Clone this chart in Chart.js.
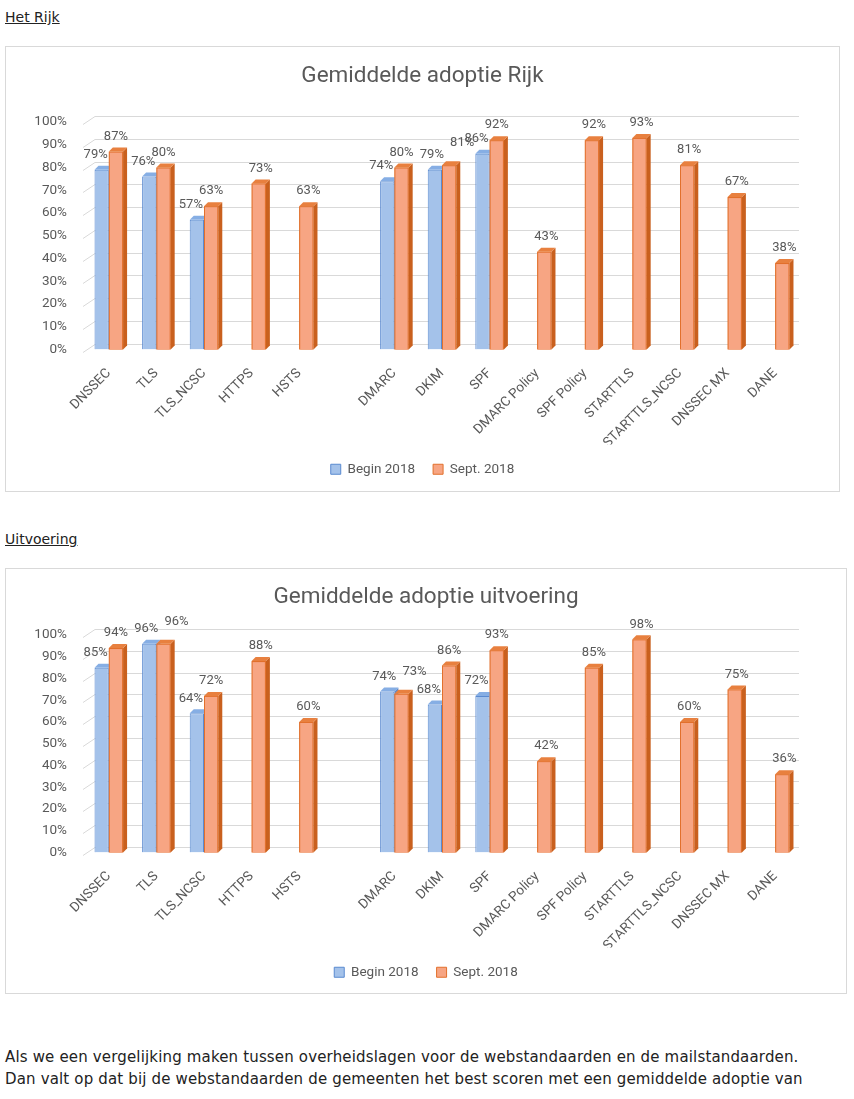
<!DOCTYPE html>
<html>
<head>
<meta charset="utf-8">
<script src="https://cdn.jsdelivr.net/npm/chart.js@4/dist/chart.umd.min.js"></script>
<style>
  body { margin: 0; background: #fff; width: 854px; height: 1099px; position: relative; font-family: "DejaVu Sans", sans-serif; }
  .kop { position: absolute; left: 5px; font-size: 14px; color: #222; text-decoration: underline; }
  .box { position: absolute; left: 5px; border: 1px solid #d9d9d9; box-sizing: border-box; }
  .tekst { position: absolute; left: 5px; font-size: 15px; letter-spacing: 0.16px; color: #222; line-height: 22px; white-space: nowrap; }
</style>
</head>
<body>
<div class="kop" style="top:9px">Het Rijk</div>
<div class="box" style="top:46px;width:835px;height:446px"><canvas id="rijk"></canvas></div>
<div class="kop" style="top:531px">Uitvoering</div>
<div class="box" style="top:568px;width:842px;height:426px"><canvas id="uitv"></canvas></div>
<div class="tekst" style="top:1046px">Als we een vergelijking maken tussen overheidslagen voor de webstandaarden en de mailstandaarden.<br>Dan valt op dat bij de webstandaarden de gemeenten het best scoren met een gemiddelde adoptie van</div>
<script>
const categories = ["DNSSEC", "TLS", "TLS_NCSC", "HTTPS", "HSTS", "", "DMARC", "DKIM", "SPF",
  "DMARC Policy", "SPF Policy", "STARTTLS", "STARTTLS_NCSC", "DNSSEC MX", "DANE"];
const seriesNames = ["Begin 2018", "Sept. 2018"];

const rijkBegin = [79, 76, 57, null, null, null, 74, 79, 86, null, null, null, null, null, null];
const rijkSept  = [87, 80, 63, 73, 63, null, 80, 81, 92, 43, 92, 93, 81, 67, 38];

const uitvBegin = [85, 96, 64, null, null, null, 74, 68, 72, null, null, null, null, null, null];
const uitvSept  = [94, 96, 72, 88, 60, null, 73, 86, 93, 42, 85, 98, 60, 75, 36];

const grey = "#595959";
const font = "Roboto";

function faces(ctx, p, ds, d) {
  const l = p.x - p.width / 2, r = p.x + p.width / 2;
  ctx.fillStyle = ds.sideColor;
  ctx.beginPath();
  ctx.moveTo(r, p.y); ctx.lineTo(r + d, p.y - d); ctx.lineTo(r + d, p.base - d); ctx.lineTo(r, p.base);
  ctx.closePath(); ctx.fill();
  ctx.fillStyle = ds.topColor;
  ctx.beginPath();
  ctx.moveTo(l, p.y); ctx.lineTo(l + d, p.y - d); ctx.lineTo(r + d, p.y - d); ctx.lineTo(r, p.y);
  ctx.closePath(); ctx.fill();
}

// 3D-effect: eerst blauw, dan oranje voorkant opnieuw + zijkanten
const bar3d = {
  id: "bar3d",
  afterDatasetsDraw(chart) {
    const ctx = chart.ctx, d = 4;
    ctx.save();
    chart.data.datasets.forEach((ds, di) => {
      chart.getDatasetMeta(di).data.forEach((el, i) => {
        if (ds.data[i] == null) return;
        const p = el.getProps(["x", "y", "base", "width"], true);
        if (di === 1) {
          const l = p.x - p.width / 2;
          ctx.fillStyle = ds.borderColor;
          ctx.fillRect(l, p.y, p.width, p.base - p.y);
          ctx.fillStyle = ds.backgroundColor;
          ctx.fillRect(l + 1, p.y + 1, p.width - 2, p.base - p.y - 1);
        }
        faces(ctx, p, ds, d);
      });
    });
    ctx.restore();
  }
};

// schuine rasterlijnen (achterwand)
const wall = {
  id: "wall",
  beforeDatasetsDraw(chart) {
    const ctx = chart.ctx, a = chart.chartArea, ys = chart.scales.y;
    ctx.save();
    ctx.strokeStyle = "#d9d9d9";
    ctx.lineWidth = 1;
    ys.ticks.forEach(t => {
      const y = Math.round(ys.getPixelForValue(t.value)) + 0.5;
      ctx.beginPath();
      ctx.moveTo(a.left - 2, y + 2);
      ctx.lineTo(a.left + 10, y - 6);
      ctx.lineTo(a.right, y - 6);
      ctx.stroke();
    });
    ctx.restore();
  }
};

// waardelabels
const labels = {
  id: "labels",
  afterDraw(chart) {
    const ctx = chart.ctx;
    ctx.save();
    ctx.font = "13px " + font;
    ctx.fillStyle = grey;
    ctx.textAlign = "center";
    ctx.textBaseline = "middle";
    const begin = chart.data.datasets[0].data;
    const sept = chart.data.datasets[1].data;
    chart.data.datasets.forEach((ds, di) => {
      chart.getDatasetMeta(di).data.forEach((el, i) => {
        const v = ds.data[i];
        if (v == null) return;
        const close = begin[i] != null && sept[i] - begin[i] < 4;
        let dx = 0, dy = -15;
        if (di === 0) dx = close ? -3 : -6;
        else if (begin[i] == null) dx = 2;
        else if (close) { dx = 13; dy = -22; }
        ctx.fillText(v + "%", el.x + dx, el.y + dy);
      });
    });
    ctx.restore();
  }
};

function makeChart(id, title, begin, sept, g) {
  return new Chart(document.getElementById(id), {
    type: "bar",
    data: {
      labels: categories,
      datasets: [
        { label: seriesNames[0], data: begin,
          backgroundColor: "#a4c2ea", borderColor: "#5a8ad0", borderWidth: 1,
          sideColor: "#5f8bcb", topColor: "#86aee4" },
        { label: seriesNames[1], data: sept,
          backgroundColor: "#f7a583", borderColor: "#e2702c", borderWidth: 1,
          sideColor: "#c9601e", topColor: "#e8803f" }
      ]
    },
    options: {
      responsive: true,
      maintainAspectRatio: false,
      animation: false,
      layout: { padding: { left: 8, right: 8, top: 0, bottom: g.bottom } },
      categoryPercentage: 0.6,
      barPercentage: 1.0,
      plugins: {
        title: { display: true, text: title, color: grey,
          font: { family: font, size: 22.5, weight: "normal" },
          padding: { top: g.titleTop, bottom: g.titleBottom } },
        legend: { position: "bottom",
          labels: { color: grey, font: { family: font, size: 13.5 }, boxWidth: 10, boxHeight: 10, padding: 18 } },
        tooltip: { enabled: false }
      },
      scales: {
        x: {
          grid: { display: false },
          border: { display: false },
          ticks: { color: grey, font: { family: font, size: 13.5 }, autoSkip: false,
            maxRotation: 45, minRotation: 45, padding: 8 },
          afterFit(s) { s.height = g.xHeight; }
        },
        y: {
          min: 0, max: 100,
          grid: { display: false },
          border: { display: false },
          ticks: { stepSize: 10, color: grey, font: { family: font, size: 13.5 }, padding: 10,
            callback: v => v + "%" },
          afterFit(s) { s.width = 71; }
        },
        // lege rechteras, alleen voor ruimte
        y2: {
          position: "right",
          grid: { display: false },
          border: { display: false },
          ticks: { display: false },
          afterFit(s) { s.width = g.rightW; }
        }
      }
    },
    plugins: [wall, bar3d, labels]
  });
}

makeChart("rijk", "Gemiddelde adoptie Rijk", rijkBegin, rijkSept,
  { rightW: 32, bottom: 5, titleTop: 16, titleBottom: 32, xHeight: 95 });
makeChart("uitv", "Gemiddelde adoptie uitvoering", uitvBegin, uitvSept,
  { rightW: 39, bottom: 4, titleTop: 15, titleBottom: 24, xHeight: 95 });
</script>
</body>
</html>
